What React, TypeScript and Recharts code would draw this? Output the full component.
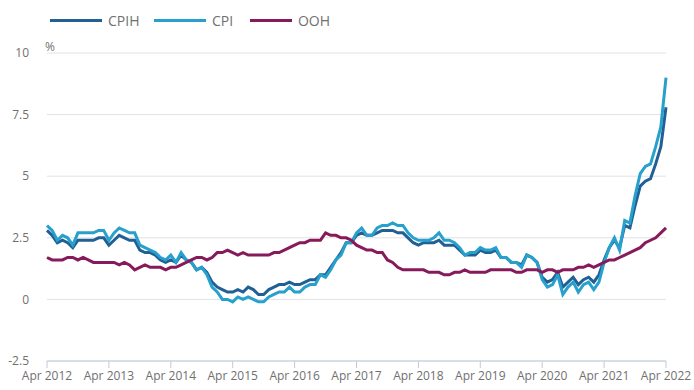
import { CartesianGrid, Line, LineChart, XAxis, YAxis } from 'recharts';

const MONTHS = ['Jan', 'Feb', 'Mar', 'Apr', 'May', 'Jun', 'Jul', 'Aug', 'Sep', 'Oct', 'Nov', 'Dec'];

const CPIH = [
  2.8, 2.6, 2.3, 2.4, 2.3, 2.1, 2.4, 2.4, 2.4,
  2.4, 2.5, 2.5, 2.2, 2.4, 2.6, 2.5, 2.4, 2.4, 2.0, 1.9, 1.9,
  1.8, 1.6, 1.5, 1.6, 1.5, 1.8, 1.6, 1.5, 1.2, 1.3, 1.1, 0.7,
  0.5, 0.4, 0.3, 0.3, 0.4, 0.3, 0.5, 0.4, 0.2, 0.2, 0.4, 0.5,
  0.6, 0.6, 0.7, 0.6, 0.6, 0.7, 0.8, 0.8, 1.0, 1.0, 1.3, 1.6,
  1.9, 2.3, 2.3, 2.6, 2.7, 2.6, 2.6, 2.7, 2.8, 2.8, 2.8, 2.7,
  2.7, 2.5, 2.3, 2.2, 2.3, 2.3, 2.3, 2.4, 2.2, 2.2, 2.2, 2.0,
  1.8, 1.8, 1.8, 2.0, 1.9, 1.9, 2.0, 1.7, 1.7, 1.5, 1.5, 1.4,
  1.8, 1.7, 1.5, 0.9, 0.7, 0.8, 1.1, 0.5, 0.7, 0.9, 0.6, 0.8,
  0.9, 0.7, 1.0, 1.6, 2.1, 2.4, 2.1, 3.0, 2.9, 3.8, 4.6, 4.8,
  4.9, 5.5, 6.2, 7.8,
];

const CPI = [
  3.0, 2.8, 2.4, 2.6, 2.5, 2.2, 2.7, 2.7, 2.7,
  2.7, 2.8, 2.8, 2.4, 2.7, 2.9, 2.8, 2.7, 2.7, 2.2, 2.1, 2.0,
  1.9, 1.7, 1.6, 1.8, 1.5, 1.9, 1.6, 1.5, 1.2, 1.3, 1.0, 0.5,
  0.3, 0.0, 0.0, -0.1, 0.1, 0.0, 0.1, 0.0, -0.1, -0.1, 0.1, 0.2,
  0.3, 0.3, 0.5, 0.3, 0.3, 0.5, 0.6, 0.6, 1.0, 0.9, 1.2, 1.6,
  1.8, 2.3, 2.3, 2.7, 2.9, 2.6, 2.6, 2.9, 3.0, 3.0, 3.1, 3.0,
  3.0, 2.7, 2.5, 2.4, 2.4, 2.4, 2.5, 2.7, 2.4, 2.4, 2.3, 2.1,
  1.8, 1.9, 1.9, 2.1, 2.0, 2.0, 2.1, 1.7, 1.7, 1.5, 1.5, 1.3,
  1.8, 1.7, 1.5, 0.8, 0.5, 0.6, 1.0, 0.2, 0.5, 0.7, 0.3, 0.6,
  0.7, 0.4, 0.7, 1.5, 2.1, 2.5, 2.0, 3.2, 3.1, 4.2, 5.1, 5.4,
  5.5, 6.2, 7.0, 9.0,
];

const OOH = [
  1.7, 1.6, 1.6, 1.6, 1.7, 1.7, 1.6, 1.7, 1.6,
  1.5, 1.5, 1.5, 1.5, 1.5, 1.4, 1.5, 1.4, 1.2, 1.3, 1.4, 1.3,
  1.3, 1.3, 1.2, 1.3, 1.3, 1.4, 1.5, 1.6, 1.7, 1.7, 1.6, 1.7,
  1.9, 1.9, 2.0, 1.9, 1.8, 1.9, 1.8, 1.8, 1.8, 1.8, 1.8, 1.9,
  1.9, 2.0, 2.1, 2.2, 2.3, 2.3, 2.4, 2.4, 2.4, 2.7, 2.6, 2.6,
  2.5, 2.5, 2.4, 2.2, 2.1, 2.0, 2.0, 1.9, 1.9, 1.6, 1.5, 1.3,
  1.2, 1.2, 1.2, 1.2, 1.2, 1.1, 1.1, 1.1, 1.0, 1.0, 1.1, 1.1,
  1.2, 1.1, 1.1, 1.1, 1.1, 1.2, 1.2, 1.2, 1.2, 1.2, 1.1, 1.1,
  1.2, 1.2, 1.2, 1.1, 1.2, 1.2, 1.1, 1.2, 1.2, 1.2, 1.3, 1.3,
  1.4, 1.3, 1.4, 1.5, 1.6, 1.6, 1.7, 1.8, 1.9, 2.0, 2.1, 2.3,
  2.4, 2.5, 2.7, 2.9,
];

const X_TICKS = ['Apr 2012', 'Apr 2013', 'Apr 2014', 'Apr 2015', 'Apr 2016', 'Apr 2017', 'Apr 2018', 'Apr 2019', 'Apr 2020', 'Apr 2021', 'Apr 2022'];
const Y_TICKS = [-2.5, 0, 2.5, 5, 7.5, 10];

const SERIES = [
  { key: 'CPIH', color: '#206095' },
  { key: 'CPI', color: '#27a0cc' },
  { key: 'OOH', color: '#871a5b' },
];

const FONT = '"Open Sans", sans-serif';
const TEXT = '#707070';

const data = CPI.map((_, i) => {
  const m = (3 + i) % 12;
  const y = 2012 + Math.floor((3 + i) / 12);
  return { month: `${MONTHS[m]} ${y}`, CPIH: CPIH[i], CPI: CPI[i], OOH: OOH[i] };
});

const Legend = () => (
  <div style={{ position: 'absolute', left: 50, top: 11, display: 'flex', fontFamily: FONT, fontSize: 14, color: TEXT }}>
    {SERIES.map((s) => (
      <div key={s.key} style={{ display: 'flex', alignItems: 'center', marginRight: 0, width: s.key === 'CPIH' ? 104 : s.key === 'CPI' ? 96 : 80 }}>
        <span style={{ display: 'inline-block', width: 52, height: 3, background: s.color, marginRight: 6 }} />
        <span>{s.key}</span>
      </div>
    ))}
  </div>
);

export default function App() {
  return (
    <div style={{ position: 'absolute', left: 0, top: 0, width: 694, height: 390, background: '#fff' }}>
      <Legend />
      <div style={{ position: 'absolute', left: 45, top: 38, fontFamily: FONT, fontSize: 12, color: TEXT }}>%</div>
      <LineChart width={694} height={390} data={data} margin={{ top: 53, right: 28, bottom: 0, left: 0 }}>
        <CartesianGrid vertical={false} stroke="#e2e2e2" strokeWidth={1} />
        <XAxis
          dataKey="month"
          ticks={X_TICKS}
          interval={0}
          height={29}
          tickSize={7}
          tickMargin={3}
          stroke="#bfcbdc"
          tick={{ fill: TEXT, fontSize: 12, fontFamily: FONT }}
        />
        <YAxis
          domain={[-2.5, 10]}
          ticks={Y_TICKS}
          width={47}
          axisLine={false}
          tickLine={false}
          tickSize={0}
          tickMargin={18}
          tick={{ fill: TEXT, fontSize: 12, fontFamily: FONT }}
        />
        {SERIES.map((s) => (
          <Line key={s.key} dataKey={s.key} stroke={s.color} strokeWidth={3} dot={false} type="linear" isAnimationActive={false} />
        ))}
      </LineChart>
    </div>
  );
}
